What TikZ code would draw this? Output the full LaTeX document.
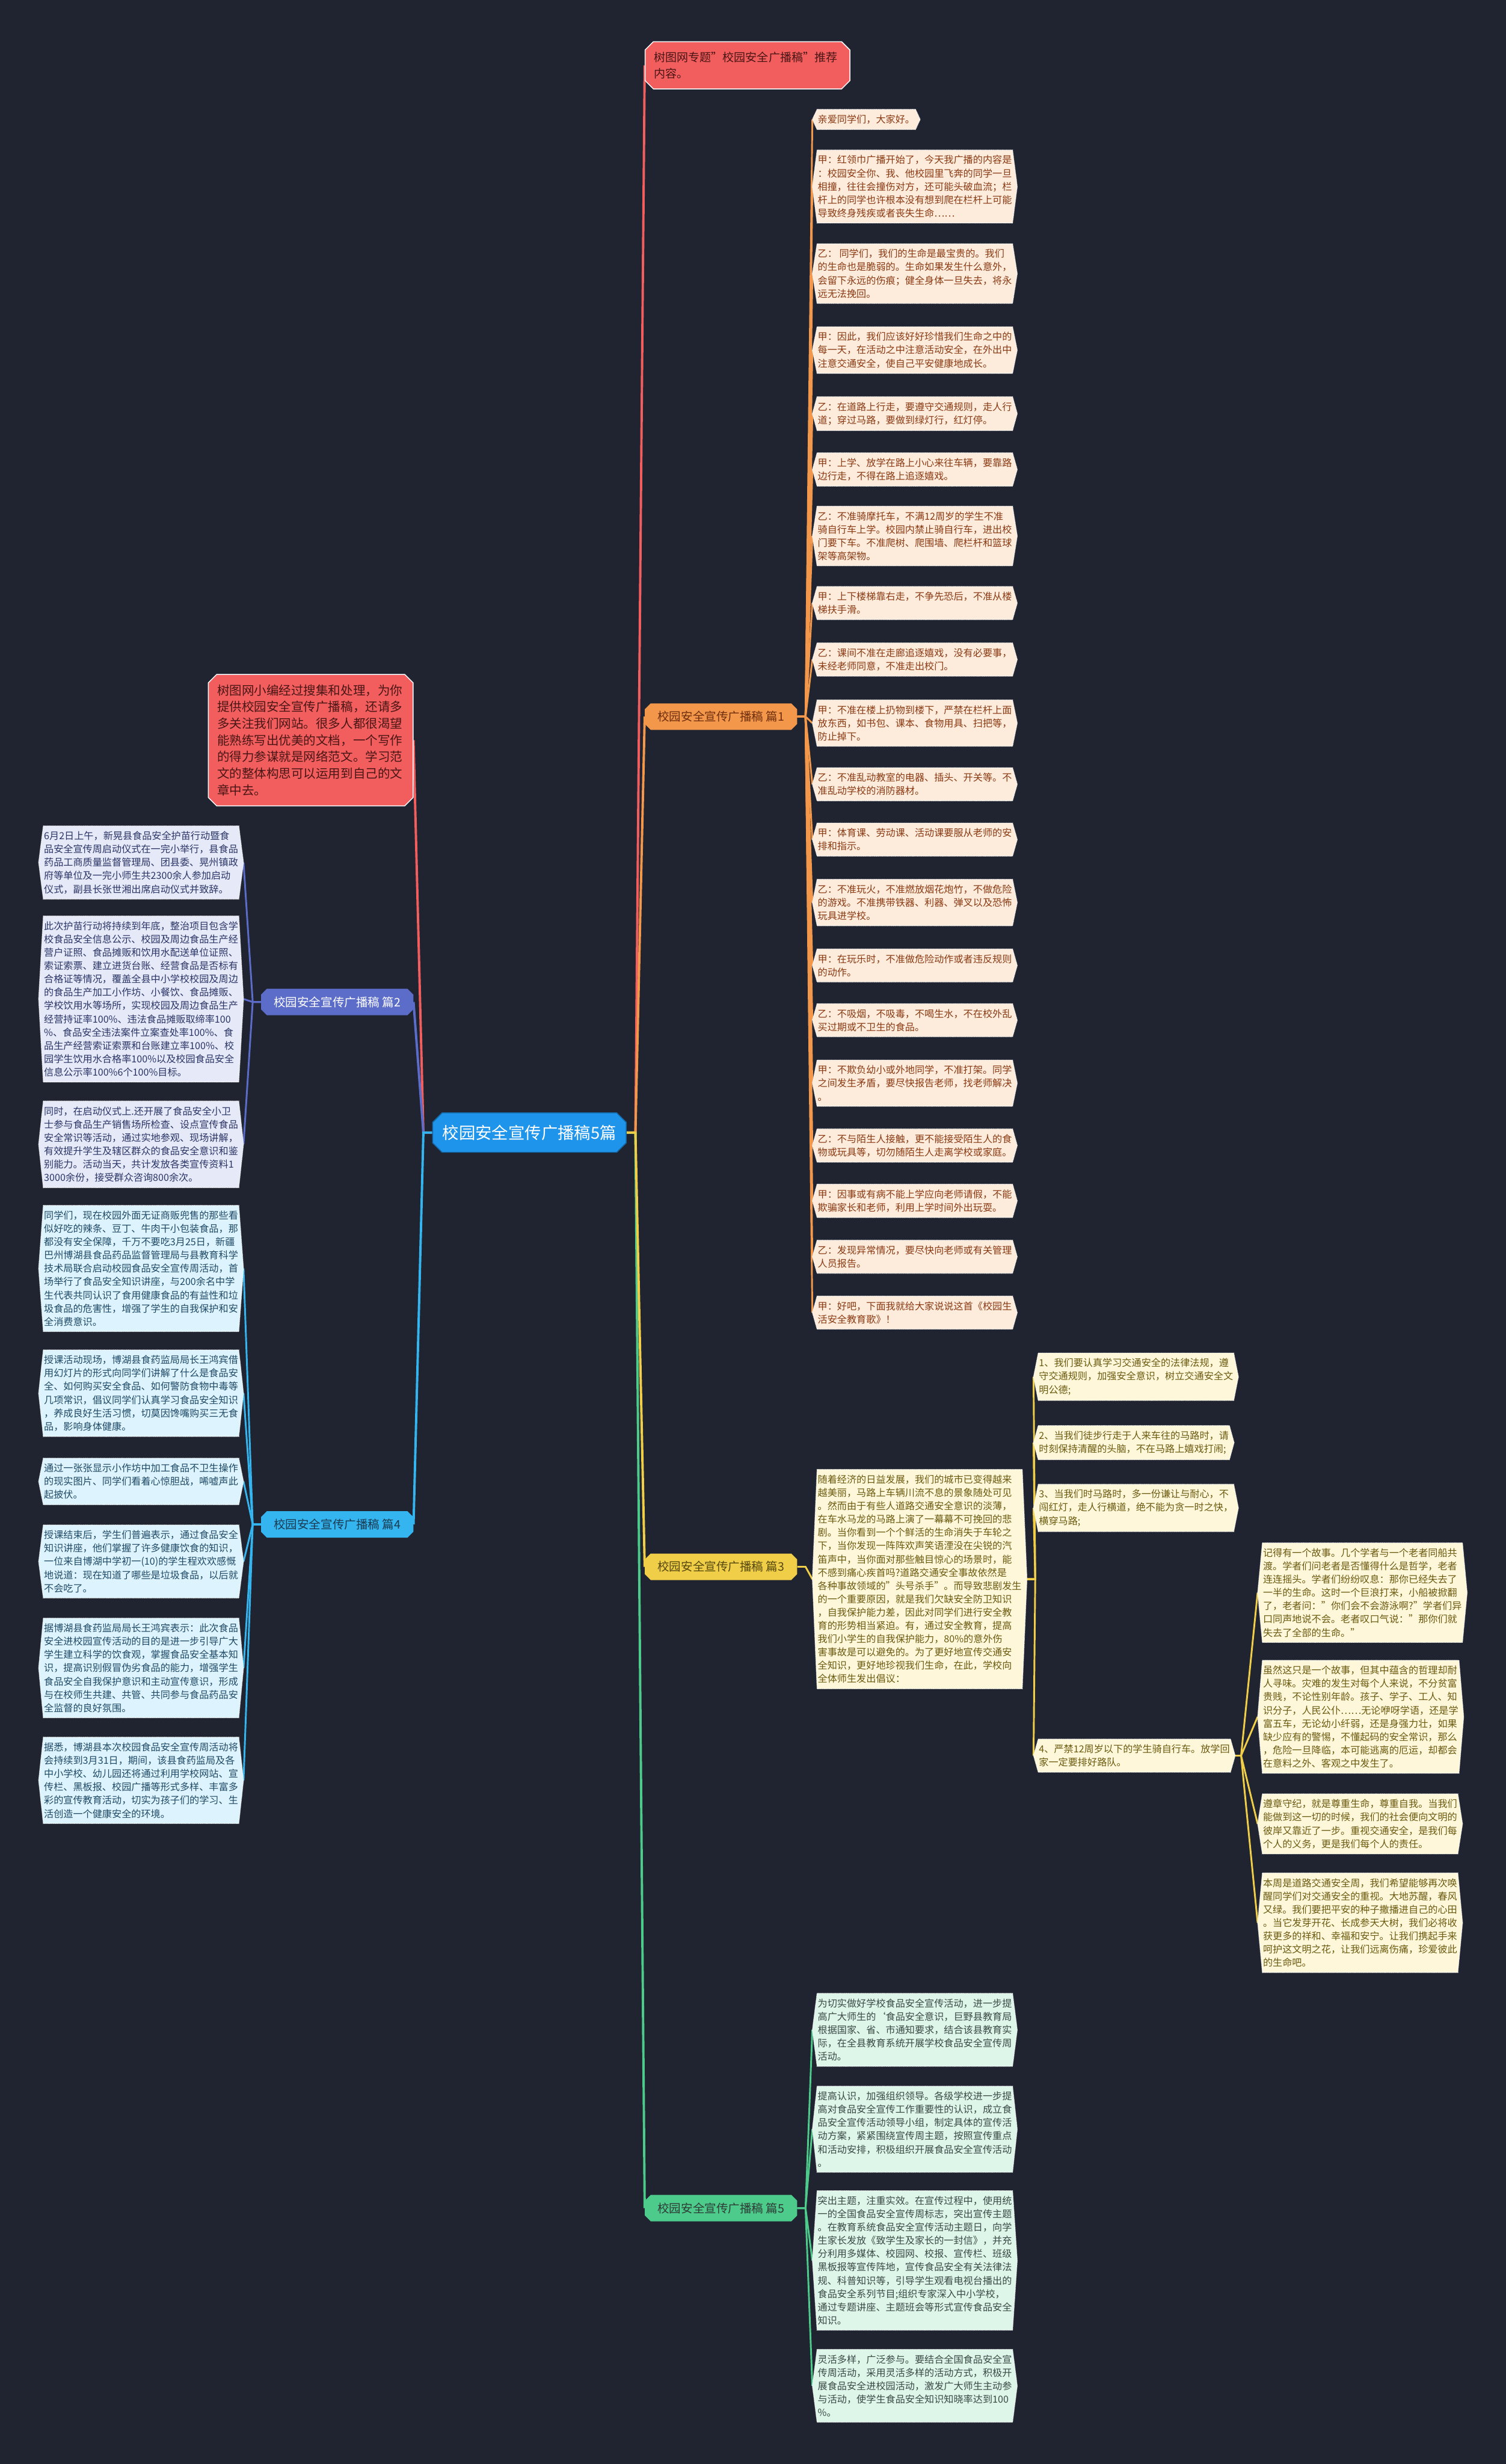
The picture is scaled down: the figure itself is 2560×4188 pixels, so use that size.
\documentclass[tikz,border=0pt]{standalone}
\usepackage{fontspec}
\setmainfont{Noto Sans CJK SC}
\usetikzlibrary{shapes.misc}
\pgfdeclarelayer{bgZ}\pgfdeclarelayer{bgA}\pgfdeclarelayer{bgB}
\pgfsetlayers{bgZ,bgA,bgB,main}
\definecolor{bgc}{HTML}{202431}
\definecolor{redf}{HTML}{F25E5E}
\definecolor{redt}{HTML}{4A1515}
\definecolor{rootf}{HTML}{1E94EA}
\definecolor{cA}{HTML}{F3974A}\definecolor{fA}{HTML}{FDEBDC}\definecolor{tA}{HTML}{8A3A12}
\definecolor{cB}{HTML}{5B6CC9}\definecolor{fB}{HTML}{E6E9F8}\definecolor{tB}{HTML}{2A3566}
\definecolor{cC}{HTML}{F0CE48}\definecolor{fC}{HTML}{FFF7D9}\definecolor{tC}{HTML}{6A5A10}
\definecolor{cD}{HTML}{35B5EF}\definecolor{fD}{HTML}{DDF3FD}\definecolor{tD}{HTML}{1F4A66}
\definecolor{cE}{HTML}{4DCB8B}\definecolor{fE}{HTML}{DEF5EA}\definecolor{tE}{HTML}{3A4A44}
\tikzset{
  leaf/.style={inner xsep=1pt, inner ysep=9pt, align=left, font=\fontsize{16.5pt}{22.6pt}\selectfont},
  lab/.style={chamfered rectangle, chamfered rectangle xsep=5pt, chamfered rectangle ysep=5pt,
    minimum width=259pt, minimum height=45pt, inner xsep=8pt, font=\fontsize{20pt}{24pt}\selectfont},
  rednode/.style={chamfered rectangle, chamfered rectangle xsep=7pt, chamfered rectangle ysep=7pt,
    fill=redf, draw=white, line width=1.5pt, text=redt, align=left, inner xsep=8pt, inner ysep=10pt,
    font=\fontsize{21pt}{28.3pt}\selectfont},
  ln/.style={line width=3pt},
  trunk/.style={line width=4pt}
}
\newcommand\lf[6]{%
  \node[leaf, text=t#5, anchor=#2] (#1) at (#3,#4) {#6};
  \begin{pgfonlayer}{bgB}
    \path[fill=f#5, draw=white, densely dotted, line width=1.2pt]
      (#1.north west) -- (#1.north east) -- ([xshift=8pt]#1.east) -- (#1.south east)
      -- (#1.south west) -- ([xshift=-8pt]#1.west) -- cycle;
  \end{pgfonlayer}}
\begin{document}
\begin{tikzpicture}[x=1pt,y=-1pt]
\begin{pgfonlayer}{bgZ}
\fill[bgc] (0,0) rectangle (2560,4188);
\end{pgfonlayer}
\useasboundingbox (0,0) rectangle (2560,4188);

% root and top-level
\node[chamfered rectangle, chamfered rectangle xsep=8pt, chamfered rectangle ysep=8pt,
  fill=rootf, draw=rootf!70!black, line width=1.5pt, text=white, minimum width=329pt, minimum height=67pt,
  font=\fontsize{28pt}{32pt}\selectfont] (root) at (900,1925) {校园安全宣传广播稿5篇};
\node[rednode, anchor=west, text width=318pt, font=\fontsize{19.5pt}{28pt}\selectfont] (hdr) at (1096,111) {树图网专题"校园安全广播稿"推荐\\内容。};
\node[rednode, anchor=east, text width=318pt] (red2) at (703,1258) {树图网小编经过搜集和处理，为你\\提供校园安全宣传广播稿，还请多\\多关注我们网站。很多人都很渴望\\能熟练写出优美的文档，一个写作\\的得力参谋就是网络范文。学习范\\文的整体构思可以运用到自己的文\\章中去。};

\node[lab, fill=cA, text=tA!80!black, anchor=west] (L1) at (1096,1218) {校园安全宣传广播稿 篇1};
\node[lab, fill=cB, text=white, anchor=east] (L2) at (703,1703) {校园安全宣传广播稿 篇2};
\node[lab, fill=cD, text=tD!80!black, anchor=east] (L4) at (703,2591) {校园安全宣传广播稿 篇4};
\node[lab, fill=cC, text=tC!80!black, anchor=west] (L3) at (1096,2663) {校园安全宣传广播稿 篇3};
\node[lab, fill=cE, text=tE!80!black, anchor=west] (L5) at (1096,3753) {校园安全宣传广播稿 篇5};

% branch 1
\lf{a1}{west}{1389}{203}{A}{亲爱同学们，大家好。}
\lf{a2}{west}{1389}{317}{A}{甲：红领巾广播开始了，今天我广播的内容是\\：校园安全你、我、他校园里飞奔的同学一旦\\相撞，往往会撞伤对方，还可能头破血流；栏\\杆上的同学也许根本没有想到爬在栏杆上可能\\导致终身残疾或者丧失生命……}
\lf{a3}{west}{1389}{465}{A}{乙： 同学们，我们的生命是最宝贵的。我们\\的生命也是脆弱的。生命如果发生什么意外，\\会留下永远的伤痕；健全身体一旦失去，将永\\远无法挽回。}
\lf{a4}{west}{1389}{595}{A}{甲：因此，我们应该好好珍惜我们生命之中的\\每一天，在活动之中注意活动安全，在外出中\\注意交通安全，使自己平安健康地成长。}
\lf{a5}{west}{1389}{703}{A}{乙：在道路上行走，要遵守交通规则，走人行\\道；穿过马路，要做到绿灯行，红灯停。}
\lf{a6}{west}{1389}{798}{A}{甲：上学、放学在路上小心来往车辆，要靠路\\边行走，不得在路上追逐嬉戏。}
\lf{a7}{west}{1389}{911}{A}{乙：不准骑摩托车，不满12周岁的学生不准\\骑自行车上学。校园内禁止骑自行车，进出校\\门要下车。不准爬树、爬围墙、爬栏杆和篮球\\架等高架物。}
\lf{a8}{west}{1389}{1025}{A}{甲：上下楼梯靠右走，不争先恐后，不准从楼\\梯扶手滑。}
\lf{a9}{west}{1389}{1121}{A}{乙：课间不准在走廊追逐嬉戏，没有必要事，\\未经老师同意，不准走出校门。}
\lf{a10}{west}{1389}{1229}{A}{甲：不准在楼上扔物到楼下，严禁在栏杆上面\\放东西，如书包、课本、食物用具、扫把等，\\防止掉下。}
\lf{a11}{west}{1389}{1333}{A}{乙：不准乱动教室的电器、插头、开关等。不\\准乱动学校的消防器材。}
\lf{a12}{west}{1389}{1427}{A}{甲：体育课、劳动课、活动课要服从老师的安\\排和指示。}
\lf{a13}{west}{1389}{1534}{A}{乙：不准玩火，不准燃放烟花炮竹，不做危险\\的游戏。不准携带铁器、利器、弹叉以及恐怖\\玩具进学校。}
\lf{a14}{west}{1389}{1641}{A}{甲：在玩乐时，不准做危险动作或者违反规则\\的动作。}
\lf{a15}{west}{1389}{1734}{A}{乙：不吸烟，不吸毒，不喝生水，不在校外乱\\买过期或不卫生的食品。}
\lf{a16}{west}{1389}{1841}{A}{甲：不欺负幼小或外地同学，不准打架。同学\\之间发生矛盾，要尽快报告老师，找老师解决\\。}
\lf{a17}{west}{1389}{1947}{A}{乙：不与陌生人接触，更不能接受陌生人的食\\物或玩具等，切勿随陌生人走离学校或家庭。}
\lf{a18}{west}{1389}{2041}{A}{甲：因事或有病不能上学应向老师请假，不能\\欺骗家长和老师，利用上学时间外出玩耍。}
\lf{a19}{west}{1389}{2136}{A}{乙：发现异常情况，要尽快向老师或有关管理\\人员报告。}
\lf{a20}{west}{1389}{2231}{A}{甲：好吧，下面我就给大家说说这首《校园生\\活安全教育歌》！}

% branch 2
\lf{b1}{east}{406}{1466}{B}{6月2日上午，新晃县食品安全护苗行动暨食\\品安全宣传周启动仪式在一完小举行，县食品\\药品工商质量监督管理局、团县委、晃州镇政\\府等单位及一完小师生共2300余人参加启动\\仪式，副县长张世湘出席启动仪式并致辞。}
\lf{b2}{east}{406}{1698}{B}{此次护苗行动将持续到年底，整治项目包含学\\校食品安全信息公示、校园及周边食品生产经\\营户证照、食品摊贩和饮用水配送单位证照、\\索证索票、建立进货台账、经营食品是否标有\\合格证等情况，覆盖全县中小学校校园及周边\\的食品生产加工小作坊、小餐饮、食品摊贩、\\学校饮用水等场所，实现校园及周边食品生产\\经营持证率100\%、违法食品摊贩取缔率100\\\%、食品安全违法案件立案查处率100\%、食\\品生产经营索证索票和台账建立率100\%、校\\园学生饮用水合格率100\%以及校园食品安全\\信息公示率100\%6个100\%目标。}
\lf{b3}{east}{406}{1945}{B}{同时，在启动仪式上.还开展了食品安全小卫\\士参与食品生产销售场所检查、设点宣传食品\\安全常识等活动，通过实地参观、现场讲解，\\有效提升学生及辖区群众的食品安全意识和鉴\\别能力。活动当天，共计发放各类宣传资料1\\3000余份，接受群众咨询800余次。}

% branch 4
\lf{d1}{east}{406}{2156}{D}{同学们，现在校园外面无证商贩兜售的那些看\\似好吃的辣条、豆丁、牛肉干小包装食品，那\\都没有安全保障，千万不要吃3月25日，新疆\\巴州博湖县食品药品监督管理局与县教育科学\\技术局联合启动校园食品安全宣传周活动，首\\场举行了食品安全知识讲座，与200余名中学\\生代表共同认识了食用健康食品的有益性和垃\\圾食品的危害性，增强了学生的自我保护和安\\全消费意识。}
\lf{d2}{east}{406}{2368}{D}{授课活动现场，博湖县食药监局局长王鸿宾借\\用幻灯片的形式向同学们讲解了什么是食品安\\全、如何购买安全食品、如何警防食物中毒等\\几项常识，倡议同学们认真学习食品安全知识\\，养成良好生活习惯，切莫因馋嘴购买三无食\\品，影响身体健康。}
\lf{d3}{east}{406}{2518}{D}{通过一张张显示小作坊中加工食品不卫生操作\\的现实图片、同学们看着心惊胆战，唏嘘声此\\起披伏。}
\lf{d4}{east}{406}{2654}{D}{授课结束后，学生们普遍表示，通过食品安全\\知识讲座，他们掌握了许多健康饮食的知识，\\一位来自博湖中学初一(10)的学生程欢欢感慨\\地说道：现在知道了哪些是垃圾食品，以后就\\不会吃了。}
\lf{d5}{east}{406}{2835}{D}{据博湖县食药监局局长王鸿宾表示：此次食品\\安全进校园宣传活动的目的是进一步引导广大\\学生建立科学的饮食观，掌握食品安全基本知\\识，提高识别假冒伪劣食品的能力，增强学生\\食品安全自我保护意识和主动宣传意识，形成\\与在校师生共建、共管、共同参与食品药品安\\全监督的良好氛围。}
\lf{d6}{east}{406}{3026}{D}{据悉，博湖县本次校园食品安全宣传周活动将\\会持续到3月31日，期间，该县食药监局及各\\中小学校、幼儿园还将通过利用学校网站、宣\\传栏、黑板报、校园广播等形式多样、丰富多\\彩的宣传教育活动，切实为孩子们的学习、生\\活创造一个健康安全的环境。}

% branch 3
\lf{c0}{west}{1389}{2684}{C}{随着经济的日益发展，我们的城市已变得越来\\越美丽，马路上车辆川流不息的景象随处可见\\。然而由于有些人道路交通安全意识的淡薄，\\在车水马龙的马路上演了一幕幕不可挽回的悲\\剧。当你看到一个个鲜活的生命消失于车轮之\\下，当你发现一阵阵欢声笑语湮没在尖锐的汽\\笛声中，当你面对那些触目惊心的场景时，能\\不感到痛心疾首吗?道路交通安全事故依然是\\各种事故领域的"头号杀手"。而导致悲剧发生\\的一个重要原因，就是我们欠缺安全防卫知识\\，自我保护能力差，因此对同学们进行安全教\\育的形势相当紧迫。有，通过安全教育，提高\\我们小学生的自我保护能力，80\%的意外伤\\害事故是可以避免的。为了更好地宣传交通安\\全知识，更好地珍视我们生命，在此，学校向\\全体师生发出倡议：}
\lf{c1}{west}{1765}{2340}{C}{1、我们要认真学习交通安全的法律法规，遵\\守交通规则，加强安全意识，树立交通安全文\\明公德;}
\lf{c2}{west}{1765}{2452}{C}{2、当我们徒步行走于人来车往的马路时，请\\时刻保持清醒的头脑，不在马路上嬉戏打闹;}
\lf{c3}{west}{1765}{2563}{C}{3、当我们时马路时，多一份谦让与耐心，不\\闯红灯，走人行横道，绝不能为贪一时之快，\\横穿马路;}
\lf{c4}{west}{1765}{2984}{C}{4、严禁12周岁以下的学生骑自行车。放学回\\家一定要排好路队。}
\lf{e1}{west}{2146}{2707}{C}{记得有一个故事。几个学者与一个老者同船共\\渡。学者们问老者是否懂得什么是哲学，老者\\连连摇头。学者们纷纷叹息：那你已经失去了\\一半的生命。这时一个巨浪打来，小船被掀翻\\了，老者问："你们会不会游泳啊?"学者们异\\口同声地说不会。老者叹口气说："那你们就\\失去了全部的生命。"}
\lf{e2}{west}{2146}{2918}{C}{虽然这只是一个故事，但其中蕴含的哲理却耐\\人寻味。灾难的发生对每个人来说，不分贫富\\贵贱，不论性别年龄。孩子、学子、工人、知\\识分子，人民公仆……无论咿呀学语，还是学\\富五车，无论幼小纤弱，还是身强力壮，如果\\缺少应有的警惕，不懂起码的安全常识，那么\\，危险一旦降临，本可能逃离的厄运，却都会\\在意料之外、客观之中发生了。}
\lf{e3}{west}{2146}{3100}{C}{遵章守纪，就是尊重生命，尊重自我。当我们\\能做到这一切的时候，我们的社会便向文明的\\彼岸又靠近了一步。重视交通安全，是我们每\\个人的义务，更是我们每个人的责任。}
\lf{e4}{west}{2146}{3268}{C}{本周是道路交通安全周，我们希望能够再次唤\\醒同学们对交通安全的重视。大地苏醒，春风\\又绿。我们要把平安的种子撒播进自己的心田\\。当它发芽开花、长成参天大树，我们必将收\\获更多的祥和、幸福和安宁。让我们携起手来\\呵护这文明之花，让我们远离伤痛，珍爱彼此\\的生命吧。}

% branch 5
\lf{f1}{west}{1389}{3450}{E}{为切实做好学校食品安全宣传活动，进一步提\\高广大师生的\symbol{96}食品安全意识，巨野县教育局\\根据国家、省、市通知要求，结合该县教育实\\际，在全县教育系统开展学校食品安全宣传周\\活动。}
\lf{f2}{west}{1389}{3619}{E}{提高认识，加强组织领导。各级学校进一步提\\高对食品安全宣传工作重要性的认识，成立食\\品安全宣传活动领导小组，制定具体的宣传活\\动方案，紧紧围绕宣传周主题，按照宣传重点\\和活动安排，积极组织开展食品安全宣传活动\\。}
\lf{f3}{west}{1389}{3842}{E}{突出主题，注重实效。在宣传过程中，使用统\\一的全国食品安全宣传周标志，突出宣传主题\\。在教育系统食品安全宣传活动主题日，向学\\生家长发放《致学生及家长的一封信》，并充\\分利用多媒体、校园网、校报、宣传栏、班级\\黑板报等宣传阵地，宣传食品安全有关法律法\\规、科普知识等，引导学生观看电视台播出的\\食品安全系列节目;组织专家深入中小学校，\\通过专题讲座、主题班会等形式宣传食品安全\\知识。}
\lf{f4}{west}{1389}{4055}{E}{灵活多样，广泛参与。要结合全国食品安全宣\\传周活动，采用灵活多样的活动方式，积极开\\展食品安全进校园活动，激发广大师生主动参\\与活动，使学生食品安全知识知晓率达到100\\\%。}

% connectors
\begin{pgfonlayer}{bgA}
\draw[trunk, redf] (root.east) -- ++(15,0) -- (hdr.west);
\draw[trunk, cA] (root.east) -- ++(15,0) -- (L1.west);
\draw[trunk, cE] (root.east) -- ++(15,0) -- (L5.west);
\draw[trunk, cC] (root.east) -- ++(15,0) -- (L3.west);
\draw[trunk, redf] (root.west) -- ++(-15,0) -- (red2.east);
\draw[trunk, cB] (root.west) -- ++(-15,0) -- (L2.east);
\draw[trunk, cD] (root.west) -- ++(-15,0) -- (L4.east);
\foreach \i in {1,...,20} \draw[ln, cA] (L1.east) -- ++(14,0) -- ([xshift=-8pt]a\i.west);
\foreach \i in {1,2,3} \draw[ln, cB] (L2.west) -- ++(-14,0) -- ([xshift=8pt]b\i.east);
\foreach \i in {1,...,6} \draw[ln, cD] (L4.west) -- ++(-14,0) -- ([xshift=8pt]d\i.east);
\draw[ln, cC] (L3.east) -- ++(14,0) -- ([xshift=-8pt]c0.west);
\foreach \i in {1,...,4} \draw[ln, cC] ([xshift=8pt]c0.east) -- ++(14,0) -- ([xshift=-8pt]c\i.west);
\foreach \i in {1,...,4} \draw[ln, cC] ([xshift=8pt]c4.east) -- ++(10,0) -- ([xshift=-8pt]e\i.west);
\foreach \i in {1,...,4} \draw[ln, cE] (L5.east) -- ++(14,0) -- ([xshift=-8pt]f\i.west);
\end{pgfonlayer}
\end{tikzpicture}
\end{document}
